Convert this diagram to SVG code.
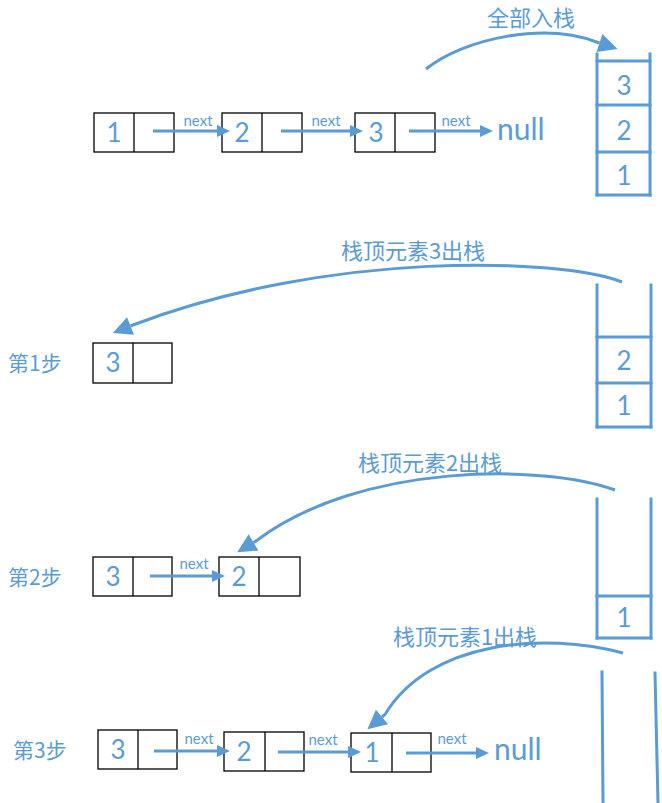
<svg xmlns="http://www.w3.org/2000/svg" width="662" height="803" viewBox="0 0 662 803">
<style>
.bg{fill:#ffffff}
.cell{fill:#ffffff;stroke:#000000;stroke-width:1.3}
.div{stroke:#000000;stroke-width:1.3}
.stk{stroke:#5B9BD5;stroke-width:3;fill:none;stroke-linecap:square}
.arr{stroke:#5B9BD5;stroke-width:3;fill:none}
.curve{stroke:#5B9BD5;stroke-width:3;fill:none}
.num{font-family:Lato,"Liberation Sans",sans-serif;font-size:26px;fill:#5B9BD5;text-anchor:middle}
.nx{font-family:Lato,"Liberation Sans",sans-serif;font-size:15px;fill:#5B9BD5;text-anchor:middle}
.null{font-family:Lato,"Liberation Sans",sans-serif;font-size:30px;fill:#5B9BD5}
.cap{font-family:"Noto Sans CJK SC","Noto Sans",sans-serif;font-size:22px;fill:#5B9BD5;text-anchor:middle}
.step{font-family:"Noto Sans CJK SC","Noto Sans",sans-serif;font-size:21px;fill:#5B9BD5}
</style>
<defs>
<marker id="ah" markerUnits="userSpaceOnUse" markerWidth="13" markerHeight="12" refX="0" refY="6" orient="auto" overflow="visible">
<path d="M0,0 L13,6 L0,12 z" fill="#5B9BD5"/>
</marker>
<marker id="big" markerUnits="userSpaceOnUse" markerWidth="20" markerHeight="19" refX="0" refY="9.5" orient="auto" overflow="visible">
<path d="M0,0 L19,9.5 L0,19 z" fill="#5B9BD5"/>
</marker>
</defs>
<rect class="bg" x="0" y="0" width="662" height="803"/>

<!-- Section 1 nodes -->
<g id="s1-node1"><rect class="cell" x="94" y="113" width="80" height="39"/><line class="div" x1="134" y1="113" x2="134" y2="152"/><text class="num" x="114" y="142">1</text></g>
<g id="s1-node2"><rect class="cell" x="222" y="113" width="80" height="39"/><line class="div" x1="262" y1="113" x2="262" y2="152"/><text class="num" x="242" y="142">2</text></g>
<g id="s1-node3"><rect class="cell" x="355" y="113" width="80" height="39"/><line class="div" x1="395" y1="113" x2="395" y2="152"/><text class="num" x="376" y="142">3</text></g>
<g id="s1-null"><text class="null" x="497" y="140">null</text></g>

<g id="stack1">
<line class="stk" x1="597" y1="54" x2="597" y2="195"/>
<line class="stk" x1="650" y1="54" x2="650" y2="195"/>
<line class="stk" x1="597" y1="61" x2="650" y2="61"/>
<line class="stk" x1="597" y1="105" x2="650" y2="105"/>
<line class="stk" x1="597" y1="152" x2="650" y2="152"/>
<line class="stk" x1="597" y1="195" x2="650" y2="195"/>
<text class="num" x="624" y="95">3</text>
<text class="num" x="624" y="140">2</text>
<text class="num" x="624" y="185">1</text>
</g>
<g id="cap1"><text class="cap" x="531" y="26">全部入栈</text></g>

<!-- Section 2 -->
<g id="step1-label"><text class="step" x="8" y="371">第1步</text></g>
<g id="s2-node3"><rect class="cell" x="93" y="343" width="79" height="40"/><line class="div" x1="133" y1="343" x2="133" y2="383"/><text class="num" x="113" y="372">3</text></g>
<g id="stack2">
<line class="stk" x1="597" y1="285" x2="597" y2="427"/>
<line class="stk" x1="651" y1="285" x2="651" y2="427"/>
<line class="stk" x1="597" y1="337" x2="651" y2="337"/>
<line class="stk" x1="597" y1="383" x2="651" y2="383"/>
<line class="stk" x1="597" y1="427" x2="651" y2="427"/>
<text class="num" x="624" y="370">2</text>
<text class="num" x="624" y="415">1</text>
</g>
<g id="cap2"><text class="cap" x="413" y="259">栈顶元素3出栈</text></g>

<!-- Section 3 -->
<g id="step2-label"><text class="step" x="8" y="585">第2步</text></g>
<g id="s3-node3"><rect class="cell" x="93" y="557" width="79" height="39"/><line class="div" x1="133" y1="557" x2="133" y2="596"/><text class="num" x="113" y="586">3</text></g>
<g id="s3-node2"><rect class="cell" x="219" y="557" width="81" height="39"/><line class="div" x1="259" y1="557" x2="259" y2="596"/><text class="num" x="239" y="586">2</text></g>
<g id="stack3">
<line class="stk" x1="597" y1="499" x2="597" y2="638"/>
<line class="stk" x1="651" y1="499" x2="651" y2="638"/>
<line class="stk" x1="597" y1="596" x2="651" y2="596"/>
<line class="stk" x1="597" y1="638" x2="651" y2="638"/>
<text class="num" x="624" y="627">1</text>
</g>
<g id="cap3"><text class="cap" x="430" y="471">栈顶元素2出栈</text></g>

<!-- Section 4 -->
<g id="step3-label"><text class="step" x="13" y="758">第3步</text></g>
<g id="s4-node3"><rect class="cell" x="98" y="730" width="79" height="39"/><line class="div" x1="138" y1="730" x2="138" y2="769"/><text class="num" x="118" y="759">3</text></g>
<g id="s4-node2"><rect class="cell" x="224" y="732" width="80" height="39"/><line class="div" x1="265" y1="732" x2="265" y2="771"/><text class="num" x="244" y="761">2</text></g>
<g id="s4-node1"><rect class="cell" x="351" y="733" width="80" height="39"/><line class="div" x1="392" y1="733" x2="392" y2="772"/><text class="num" x="372" y="762">1</text></g>
<g id="s4-null"><text class="null" x="494" y="760">null</text></g>
<g id="stack4">
<line class="stk" x1="602" y1="672" x2="603" y2="803"/>
<line class="stk" x1="655" y1="673" x2="658" y2="803"/>
</g>
<g id="cap4"><text class="cap" x="465" y="645">栈顶元素1出栈</text></g>

<!-- Connectors -->
<g id="connectors">
<line class="arr" x1="153" y1="131" x2="217" y2="131" marker-end="url(#ah)"/>
<line class="arr" x1="281" y1="131" x2="350" y2="131" marker-end="url(#ah)"/>
<line class="arr" x1="409" y1="131" x2="480" y2="131" marker-end="url(#ah)"/>
<text class="nx" x="198" y="126">next</text>
<text class="nx" x="326" y="126">next</text>
<text class="nx" x="456" y="126">next</text>

<line class="arr" x1="150" y1="576" x2="212" y2="576" marker-end="url(#ah)"/>
<text class="nx" x="194" y="569">next</text>

<line class="arr" x1="154" y1="751" x2="217" y2="751" marker-end="url(#ah)"/>
<line class="arr" x1="278" y1="752" x2="348" y2="752" marker-end="url(#ah)"/>
<line class="arr" x1="406" y1="753" x2="476" y2="753" marker-end="url(#ah)"/>
<text class="nx" x="199" y="744">next</text>
<text class="nx" x="323" y="745">next</text>
<text class="nx" x="452" y="744">next</text>

<path class="curve" d="M426,69 C465,38 545,22 596.5,42 L599.5,43" marker-end="url(#big)"/>
<path class="curve" d="M622,282 C560,258 330,250 133,325 L130.5,326" marker-end="url(#big)"/>
<path class="curve" d="M615,490 C545,464 360,462 256,541 L253.5,542.5" marker-end="url(#big)"/>
<path class="curve" d="M623,653 C545,632 430,640 385,714.5 L382,717" marker-end="url(#big)"/>
</g>
</svg>
